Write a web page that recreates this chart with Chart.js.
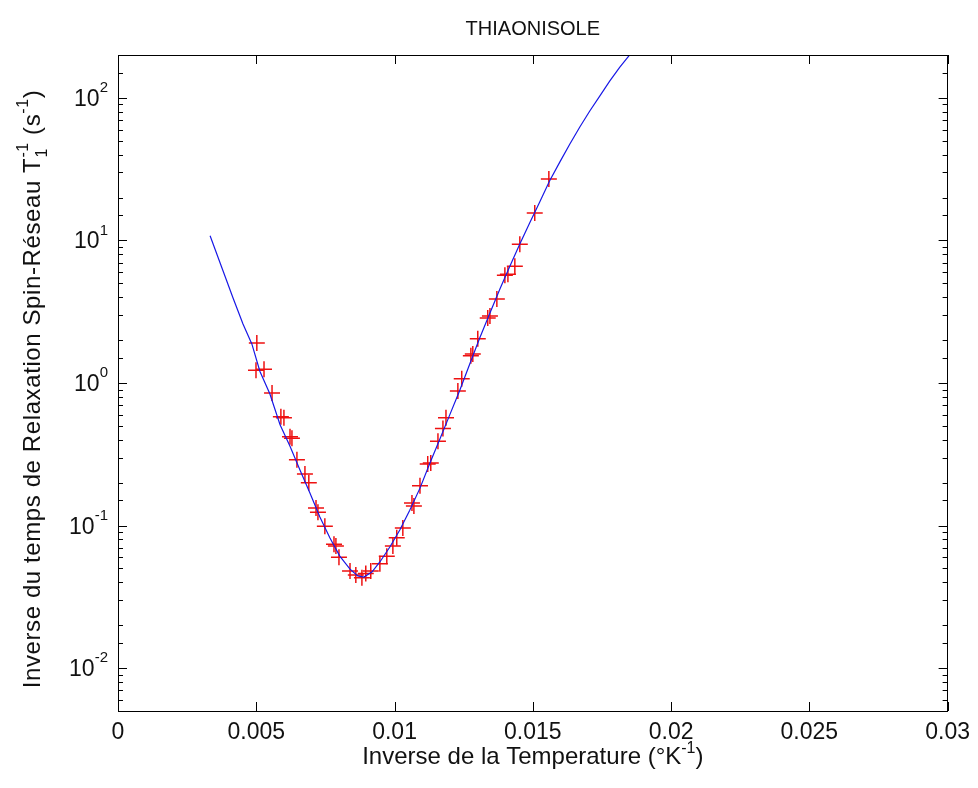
<!DOCTYPE html>
<html>
<head>
<meta charset="utf-8">
<title>THIAONISOLE</title>
<script src="https://cdn.jsdelivr.net/npm/chart.js"></script>
<style>
  html, body { margin: 0; padding: 0; background: #fff; }
  #wrap { width: 978px; height: 788px; }
</style>
</head>
<body>
<div id="wrap"><canvas id="relaxChart" width="978" height="788"></canvas></div>
<script>
// measured points: 1/T (K^-1) and 1/T1 (s^-1)
const invTemp = [
  0.00502, 0.00499, 0.00528, 0.00557, 0.00589, 0.00600, 0.00622, 0.00629,
  0.00647, 0.00676, 0.00690, 0.00716, 0.00723, 0.00748, 0.00781, 0.00788,
  0.00799, 0.00839, 0.00860, 0.00882, 0.00896, 0.00914, 0.00947, 0.00972,
  0.00994, 0.01008, 0.01030, 0.01063, 0.01070, 0.01092, 0.01120, 0.01131,
  0.01157, 0.01175, 0.01186, 0.01229, 0.01243, 0.01276, 0.01283, 0.01301,
  0.01337, 0.01345, 0.01370, 0.01399, 0.01410, 0.01435, 0.01453, 0.01507,
  0.01558
];
const relaxRate = [
  1.91, 1.23, 1.25, 0.85, 0.58, 0.57, 0.42, 0.41,
  0.29, 0.23, 0.20, 0.133, 0.124, 0.099, 0.074, 0.072,
  0.060, 0.048, 0.045, 0.043, 0.046, 0.048, 0.054, 0.061,
  0.072, 0.082, 0.096, 0.144, 0.137, 0.19, 0.27, 0.275,
  0.39, 0.48, 0.57, 0.88, 1.07, 1.55, 1.60, 2.04,
  2.86, 2.95, 3.88, 5.7, 5.8, 6.6, 9.4, 15.6,
  27
];

// fitted curve
const fitInvTemp = [
  0.00333, 0.0038, 0.00416, 0.00452, 0.00484, 0.00513, 0.00549, 0.00586,
  0.00622, 0.00658, 0.00694, 0.0073, 0.00766, 0.00802, 0.00839, 0.00867,
  0.00889, 0.00918, 0.00947, 0.00983, 0.01019, 0.01055, 0.01092, 0.01128,
  0.01164, 0.012, 0.01236, 0.01272, 0.01308, 0.01345, 0.01381, 0.01417,
  0.01453, 0.01489, 0.01525, 0.01561, 0.01598, 0.01634, 0.0167, 0.01706,
  0.01742, 0.01778, 0.01814, 0.0188
];
const fitRate = [
  10.8, 6.1, 3.95, 2.59, 1.88, 1.21, 0.84, 0.51,
  0.36, 0.245, 0.169, 0.115, 0.082, 0.061, 0.0495, 0.0443,
  0.0435, 0.0472, 0.0555, 0.0707, 0.093, 0.128, 0.183, 0.275,
  0.405, 0.60, 0.89, 1.36, 2.07, 3.1, 4.57, 6.6,
  9.45, 13.3, 18.6, 26.2, 35.6, 47.5, 62.5, 81,
  103, 131, 164, 236
];

const yDecades = [-2, -1, 0, 1, 2];

const FONT = '"Liberation Sans", Arial, sans-serif';
const TXT = 23;
const LABEL = 24;
const INK = '#111';

// draws text with sub/superscripts; parts are strings or {sub, sup}
function drawRich(ctx, parts, x, y, align, size, raise) {
  const small = Math.round(size * 0.66);
  const up = raise || 0.6;
  const widths = parts.map((p) => {
    if (typeof p === 'string') {
      ctx.font = `${size}px ${FONT}`;
      return ctx.measureText(p).width;
    }
    ctx.font = `${small}px ${FONT}`;
    return Math.max(p.sup ? ctx.measureText(p.sup).width : 0,
                    p.sub ? ctx.measureText(p.sub).width : 0);
  });
  const total = widths.reduce((a, b) => a + b, 0);
  let cx = align === 'center' ? x - total / 2 : align === 'right' ? x - total : x;
  ctx.textAlign = 'left';
  ctx.textBaseline = 'alphabetic';
  ctx.fillStyle = INK;
  parts.forEach((p, i) => {
    if (typeof p === 'string') {
      ctx.font = `${size}px ${FONT}`;
      ctx.fillText(p, cx, y);
    } else {
      ctx.font = `${small}px ${FONT}`;
      if (p.sup) ctx.fillText(p.sup, cx, y - size * up);
      if (p.sub) ctx.fillText(p.sub, cx, y + size * 0.28);
    }
    cx += widths[i];
  });
}

const matlabAxes = {
  id: 'matlabAxes',
  afterDraw(chart) {
    const { ctx, chartArea: a } = chart;
    const xs = chart.scales.x;
    const ys = chart.scales.y;
    ctx.save();
    ctx.strokeStyle = '#000';
    ctx.lineWidth = 1;
    ctx.beginPath();
    // x ticks, bottom and top, pointing inward
    xs.ticks.forEach((t) => {
      const px = Math.round(xs.getPixelForValue(t.value)) + 0.5;
      ctx.moveTo(px, a.bottom); ctx.lineTo(px, a.bottom - 9);
      ctx.moveTo(px, a.top); ctx.lineTo(px, a.top + 9);
    });
    // y ticks, majors on decades
    ys.ticks.forEach((t) => {
      const lg = Math.log10(t.value);
      const major = Math.abs(lg - Math.round(lg)) < 1e-6;
      const len = major ? 9 : 5;
      const py = Math.round(ys.getPixelForValue(t.value)) + 0.5;
      ctx.moveTo(a.left, py); ctx.lineTo(a.left + len, py);
      ctx.moveTo(a.right, py); ctx.lineTo(a.right - len, py);
    });
    ctx.stroke();
    ctx.strokeRect(Math.round(a.left) + 0.5, Math.round(a.top) + 0.5,
                   Math.round(a.right - a.left) - 1, Math.round(a.bottom - a.top));

    // y tick labels 10^n
    yDecades.forEach((d) => {
      const py = ys.getPixelForValue(Math.pow(10, d));
      drawRich(ctx, ['10', { sup: String(d) }], a.left - 10, py + 8, 'right', TXT);
    });

    const midX = (a.left + a.right) / 2;
    drawRich(ctx, ['THIAONISOLE'], midX, 35, 'center', 20);
    drawRich(ctx, ['Inverse de la Temperature (°K', { sup: '-1' }, ')'], midX, 764, 'center', LABEL, 0.45);

    ctx.translate(40, (a.top + a.bottom) / 2 + 6);
    ctx.rotate(-Math.PI / 2);
    ctx.letterSpacing = '0.6px';
    drawRich(ctx, ['Inverse du temps de Relaxation Spin-Réseau T', { sub: '1', sup: '-1' },
                   ' (s', { sup: '-1' }, ')'], 0, 0, 'center', LABEL, 0.5);
    ctx.restore();
  }
};

const points = invTemp.map((v, i) => ({ x: v, y: relaxRate[i] }));
const fit = fitInvTemp.map((v, i) => ({ x: v, y: fitRate[i] }));

new Chart(document.getElementById('relaxChart'), {
  type: 'scatter',
  data: {
    datasets: [
      {
        label: 'fit',
        data: fit,
        showLine: true,
        borderColor: '#1818e6',
        borderWidth: 1.2,
        pointRadius: 0,
        tension: 0
      },
      {
        label: 'mesures',
        data: points,
        pointStyle: 'cross',
        pointRadius: 8,
        borderColor: '#ee1111',
        borderWidth: 1.5,
        backgroundColor: '#ee1111'
      }
    ]
  },
  options: {
    responsive: false,
    animation: false,
    layout: { padding: { top: 55, right: 28, left: 0, bottom: 0 } },
    plugins: {
      legend: { display: false },
      tooltip: { enabled: false }
    },
    scales: {
      x: {
        type: 'linear',
        min: 0,
        max: 0.03,
        grid: { display: false, drawTicks: false },
        border: { display: false },
        ticks: {
          stepSize: 0.005,
          padding: 8,
          color: INK,
          font: { family: FONT, size: TXT },
          callback: (v) => String(+Number(v).toFixed(3))
        },
        afterFit: (s) => { s.height = 77; }
      },
      y: {
        type: 'logarithmic',
        min: 0.005,
        max: 200,
        grid: { display: false, drawTicks: false },
        border: { display: false },
        ticks: { display: false },
        afterFit: (s) => { s.width = 118; }
      }
    }
  },
  plugins: [matlabAxes]
});
</script>
</body>
</html>
